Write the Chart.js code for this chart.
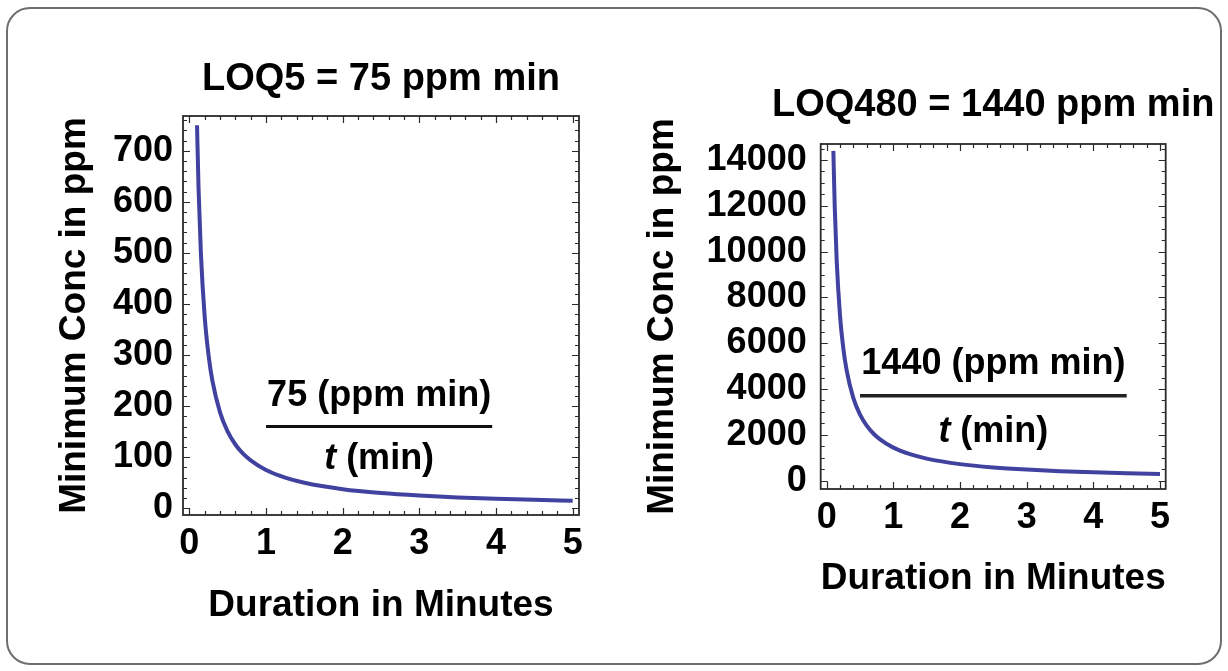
<!DOCTYPE html>
<html>
<head>
<meta charset="utf-8">
<script src="https://cdn.jsdelivr.net/npm/chart.js@4.4.1/dist/chart.umd.min.js"></script>
<style>
  html, body { margin: 0; padding: 0; background: #fff; }
  #wrap { position: relative; width: 1228px; height: 671px; overflow: hidden; }
  #box { position: absolute; left: 6px; top: 7px; width: 1216px; height: 658px; box-sizing: border-box;
         border: 2px solid #6e6e6e; border-radius: 24px; }
  canvas { position: absolute; top: 0; }
  #leftChart { left: 0; }
  #rightChart { left: 614px; }
</style>
</head>
<body>
<div id="wrap">
  <div id="box"></div>
  <canvas id="leftChart" width="614" height="671"></canvas>
  <canvas id="rightChart" width="614" height="671"></canvas>
</div>
<script>
// values (minutes / ppm)
const durations = [0.1, 0.12, 0.15, 0.2, 0.25, 0.3, 0.4, 0.5, 0.6, 0.7, 0.8, 1, 1.25, 1.5, 2, 2.5, 3, 3.5, 4, 4.5, 5];
const conc5 = [750, 625, 500, 375, 300, 250, 188, 150, 125, 107, 94, 75, 60, 50, 37.5, 30, 25, 21.4, 18.8, 16.7, 15];
const conc480 = [14400, 12000, 9600, 7200, 5760, 4800, 3600, 2880, 2400, 2057, 1800, 1440, 1152, 960, 720, 576, 480, 411, 360, 320, 288];

const xTicks = [0, 1, 2, 3, 4, 5];
const yTicks5 = [0, 100, 200, 300, 400, 500, 600, 700];
const yTicks480 = [0, 2000, 4000, 6000, 8000, 10000, 12000, 14000];

// fraction bar of the label inside each plot
const fracX5 = [1, 3.95];
const fracY5 = [160, 160];
const fracX480 = [0.5, 4.5];
const fracY480 = [3700, 3700];

const FONT = "'Liberation Sans', Arial, sans-serif";

const frameTicks = {
  id: 'frameTicks',
  afterDatasetsDraw(chart, args, o) {
    const { ctx, chartArea: a, scales: { x, y } } = chart;
    ctx.save();
    ctx.strokeStyle = '#2a2a2a';
    ctx.lineWidth = 1.2;
    ctx.beginPath();
    for (let i = Math.ceil(x.min / o.xMinor); i * o.xMinor <= x.max + 1e-9; i++) {
      const v = i * o.xMinor;
      const major = Math.abs(v - Math.round(v / o.xMajor) * o.xMajor) < 1e-6;
      const len = major ? 7 : 4;
      const px = Math.round(x.getPixelForValue(v)) + 0.5;
      ctx.moveTo(px, a.bottom); ctx.lineTo(px, a.bottom - len);
      ctx.moveTo(px, a.top); ctx.lineTo(px, a.top + len);
    }
    for (let i = Math.ceil(y.min / o.yMinor); i * o.yMinor <= y.max + 1e-9; i++) {
      const v = i * o.yMinor;
      const major = Math.abs(v - Math.round(v / o.yMajor) * o.yMajor) < 1e-6;
      const len = major ? 7 : 4;
      const py = Math.round(y.getPixelForValue(v)) + 0.5;
      ctx.moveTo(a.left, py); ctx.lineTo(a.left + len, py);
      ctx.moveTo(a.right, py); ctx.lineTo(a.right - len, py);
    }
    ctx.stroke();
    ctx.lineWidth = 1.8;
    ctx.strokeRect(a.left, a.top, a.right - a.left, a.bottom - a.top);

    ctx.fillStyle = '#000';
    ctx.textBaseline = 'alphabetic';

    // plot title, centred over the frame
    ctx.textAlign = 'center';
    ctx.font = 'bold 38px ' + FONT;
    ctx.fillText(o.title, (a.left + a.right) / 2, o.titleBase);

    // formula text over / under the bar
    const cx = (x.getPixelForValue(o.fx[0]) + x.getPixelForValue(o.fx[1])) / 2;
    const cy = y.getPixelForValue(o.fy);
    ctx.font = 'bold 36px ' + FONT;
    ctx.fillText(o.num, cx, cy - o.above);
    ctx.textAlign = 'left';
    ctx.font = 'italic bold 36px ' + FONT;
    const wt = ctx.measureText('t').width;
    ctx.font = 'bold 36px ' + FONT;
    const wr = ctx.measureText(' (min)').width;
    const sx = cx - (wt + wr) / 2;
    ctx.font = 'italic bold 36px ' + FONT;
    ctx.fillText('t', sx, cy + o.below);
    ctx.font = 'bold 36px ' + FONT;
    ctx.fillText(' (min)', sx + wt, cy + o.below);
    ctx.restore();
  }
};

function makeChart(id, p) {
  const ctx = document.getElementById(id).getContext('2d');
  return new Chart(ctx, {
    type: 'line',
    data: {
      datasets: [{
        data: durations.map((t, i) => ({ x: t, y: p.values[i] })),
        borderColor: '#4141a0',
        borderWidth: 4,
        pointRadius: 0,
        cubicInterpolationMode: 'monotone',
        fill: false
      }, {
        data: p.fracX.map((v, i) => ({ x: v, y: p.fracY[i] })),
        borderColor: p.barColor,
        borderWidth: p.barWidth,
        pointRadius: 0,
        fill: false
      }]
    },
    options: {
      responsive: false,
      animation: false,
      devicePixelRatio: 1,
      layout: { padding: { left: 0, right: p.padRight, top: p.padTop, bottom: 0 } },
      plugins: {
        legend: { display: false },
        tooltip: { enabled: false },
        title: { display: false },
        frameTicks: {
          xMajor: 1, xMinor: 0.2, yMajor: p.yMajor, yMinor: p.yMinor,
          title: p.title, titleBase: p.titleBase,
          fx: p.fracX, fy: p.fracY[0], num: p.num, above: p.above, below: p.below
        }
      },
      scales: {
        x: {
          type: 'linear',
          min: p.xMin,
          max: p.xMax,
          afterBuildTicks: s => { s.ticks = xTicks.map(v => ({ value: v })); },
          afterFit: s => { s.height = p.xAxisH; },
          grid: { display: false, drawTicks: false },
          border: { display: false },
          ticks: {
            color: '#000', padding: 7, autoSkip: false, maxRotation: 0,
            font: { family: FONT, size: 36, weight: 'bold' },
            callback: v => String(v)
          },
          title: {
            display: true, text: 'Duration in Minutes', color: '#000',
            font: { family: FONT, size: 37, weight: 'bold' },
            padding: { top: 0, bottom: p.xTitleBottom }
          }
        },
        y: {
          type: 'linear',
          min: p.yMin,
          max: p.yMax,
          afterBuildTicks: s => { s.ticks = p.yTicks.map(v => ({ value: v })); },
          afterFit: s => { s.width = p.yAxisW; },
          grid: { display: false, drawTicks: false },
          border: { display: false },
          ticks: {
            color: '#000', padding: p.yPad, autoSkip: false,
            font: { family: FONT, size: 36, weight: 'bold' },
            callback: v => String(v)
          },
          title: {
            display: true, text: 'Minimum Conc in ppm', color: '#000',
            font: { family: FONT, size: 37, weight: 'bold' },
            padding: { top: p.yTitleLeft, bottom: 0 }
          }
        }
      }
    },
    plugins: [frameTicks]
  });
}

makeChart('leftChart', {
  values: conc5, yTicks: yTicks5, fracX: fracX5, fracY: fracY5,
  title: 'LOQ5 = 75 ppm min', num: '75 (ppm min)', titleBase: 90,
  xMin: -0.083, xMax: 5.082, yMin: -13, yMax: 768, yMajor: 100, yMinor: 20,
  padRight: 35, padTop: 116, yAxisW: 183, xAxisH: 156, yPad: 10,
  xTitleBottom: 43, yTitleLeft: 53,
  barColor: '#111', barWidth: 3, above: 21, below: 42
});

makeChart('rightChart', {
  values: conc480, yTicks: yTicks480, fracX: fracX480, fracY: fracY480,
  title: 'LOQ480 = 1440 ppm min', num: '1440 (ppm min)', titleBase: 116,
  xMin: -0.09, xMax: 5.085, yMin: -367, yMax: 14700, yMajor: 2000, yMinor: 500,
  padRight: 62.3, padTop: 144, yAxisW: 206.7, xAxisH: 182, yPad: 14,
  xTitleBottom: 70, yTitleLeft: 27,
  barColor: '#222', barWidth: 3.5, above: 22, below: 46
});
</script>
</body>
</html>
